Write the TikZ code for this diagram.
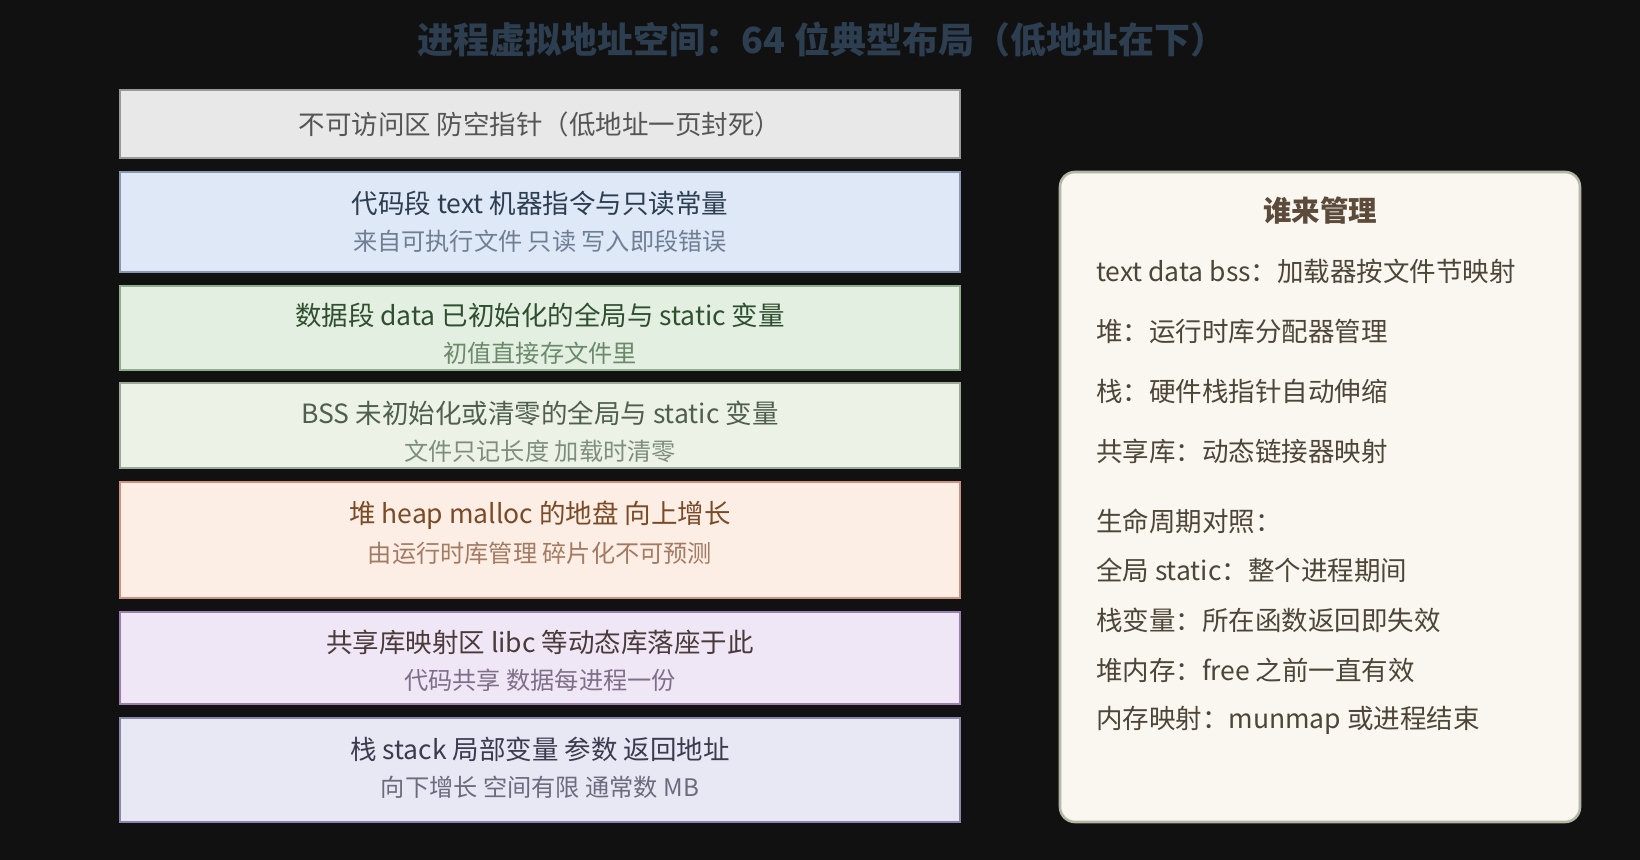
\documentclass[tikz,border=0pt]{standalone}
\usepackage{fontspec}
\setmainfont{Noto Sans CJK SC}

\definecolor{bgdark}{HTML}{111111}
\definecolor{titlec}{HTML}{2C3E50}
\definecolor{segfill1}{HTML}{E8E8E8}\definecolor{segline1}{HTML}{999999}\definecolor{segmain1}{HTML}{555555}
\definecolor{segfill2}{HTML}{DEE8F6}\definecolor{segline2}{HTML}{8898AE}\definecolor{segmain2}{HTML}{2C3E50}\definecolor{segsub2}{HTML}{6E7F94}
\definecolor{segfill3}{HTML}{E3EFE1}\definecolor{segline3}{HTML}{8FAE8A}\definecolor{segmain3}{HTML}{2F4F2F}\definecolor{segsub3}{HTML}{6A8A6A}
\definecolor{segfill4}{HTML}{EDF2E6}\definecolor{segline4}{HTML}{9AAA94}\definecolor{segmain4}{HTML}{4F5F4F}\definecolor{segsub4}{HTML}{7E8E7E}
\definecolor{segfill5}{HTML}{FDEEE5}\definecolor{segline5}{HTML}{C99484}\definecolor{segmain5}{HTML}{7A4B26}\definecolor{segsub5}{HTML}{A37B63}
\definecolor{segfill6}{HTML}{F0E7F6}\definecolor{segline6}{HTML}{9C7FAE}\definecolor{segmain6}{HTML}{4A3A3A}\definecolor{segsub6}{HTML}{7D6E8A}
\definecolor{segfill7}{HTML}{E8E8F4}\definecolor{segline7}{HTML}{8A87AA}\definecolor{segmain7}{HTML}{3B3B4F}\definecolor{segsub7}{HTML}{6B6B7D}
\definecolor{panelfill}{HTML}{FAF7F0}
\definecolor{panelline}{HTML}{B5B5A5}
\definecolor{paneltitle}{HTML}{5C4A3A}
\definecolor{paneltext}{HTML}{4D4638}

\begin{document}
\begin{tikzpicture}[x=0.5pt,y=-0.5pt,
    seg/.style={draw,line width=1.3pt,inner sep=0pt,outer sep=0pt,minimum width=420pt},
    segmain/.style={font=\fontsize{13.25}{15}\selectfont},
    segsub/.style={font=\fontsize{12.1}{14}\selectfont},
    notetext/.style={anchor=west,text=paneltext,font=\fontsize{13.25}{15}\selectfont}]
  \fill[bgdark] (0,0) rectangle (1640,860);
  \node[text=titlec,font=\bfseries\fontsize{18}{20}\selectfont] (title) at (822,40) {进程虚拟地址空间：64 位典型布局（低地址在下）};
  % lowest page, one line only
  \node[seg,fill=segfill1,draw=segline1,minimum height=34pt] (seg1) at (540,124) {};
  \node[segmain,text=segmain1] (seg1-main) at (seg1) {不可访问区 防空指针（低地址一页封死）};
  \foreach \n/\t/\b/\ya/\main/\sub in {
      2/172/272/203/{代码段 text 机器指令与只读常量}/{来自可执行文件 只读 写入即段错误},
      3/286/370/315/{数据段 data 已初始化的全局与 static 变量}/{初值直接存文件里},
      4/383/468/413/{BSS 未初始化或清零的全局与 static 变量}/{文件只记长度 加载时清零},
      5/482/598/515/{堆 heap malloc 的地盘 向上增长}/{由运行时库管理 碎片化不可预测},
      6/612/704/642/{共享库映射区 libc 等动态库落座于此}/{代码共享 数据每进程一份},
      7/718/822/749/{栈 stack 局部变量 参数 返回地址}/{向下增长 空间有限 通常数 MB}}
  {
    \node[seg,fill=segfill\n,draw=segline\n,minimum height={(\b-\t)*0.5pt}] (seg\n) at (540,{(\t+\b)/2}) {};
    \node[segmain,text=segmain\n] (seg\n-main) at (540,\ya) {\main};
    \node[segsub,text=segsub\n] (seg\n-sub) at (540,\ya+38) {\sub};
  }
  % who manages what
  \node[draw=panelline,fill=panelfill,line width=1.3pt,rounded corners=7.5pt,
        minimum width=260pt,minimum height=325pt,inner sep=0pt] (panel) at (1320,497) {};
  \node[text=paneltitle,font=\bfseries\fontsize{14.25}{16}\selectfont] (panel-title) at (1320,211) {谁来管理};
  \foreach \y/\txt [count=\i] in {271/{text data bss：加载器按文件节映射},
      331/{堆：运行时库分配器管理},
      391/{栈：硬件栈指针自动伸缩},
      451/{共享库：动态链接器映射},
      521/{生命周期对照：},
      570/{全局 static：整个进程期间},
      620/{栈变量：所在函数返回即失效},
      670/{堆内存：free 之前一直有效},
      720/{内存映射：munmap 或进程结束}}
    \node[notetext] (note\i) at (1089,\y) {\txt};
\end{tikzpicture}
\end{document}
